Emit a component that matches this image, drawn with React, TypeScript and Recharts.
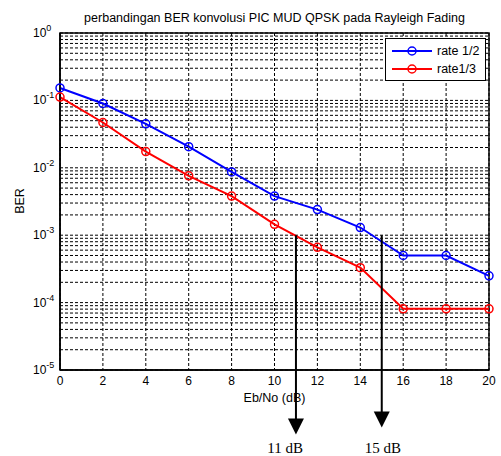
import React from "react";
import {
    CartesianGrid,
    Legend,
    Line,
    LineChart,
    ReferenceArea,
    ReferenceDot,
    ReferenceLine,
    XAxis,
    YAxis,
} from "recharts";

const ebNo = [0, 2, 4, 6, 8, 10, 12, 14, 16, 18, 20];
const rateHalf = [0.153, 0.09, 0.045, 0.0206, 0.0087, 0.0038, 0.0024, 0.0013, 0.0005, 0.0005, 0.00025];
const rateThird = [0.112, 0.047, 0.0174, 0.0076, 0.0038, 0.00145, 0.00066, 0.00033, 0.000081, 0.000081, 0.000081];

const decadeTicks = [1e-5, 1e-4, 1e-3, 1e-2, 1e-1, 1];
const gridMultipliers = [1, 2, 3, 4, 5, 6, 7, 8, 9];

// annotation arrows below the plot
const arrowX = [11, 15];
const arrowFrom = [1e-3, 1e-3];
const arrowTip = [1.1e-6, 1.4e-6];
const arrowLabels = ["11 dB", "15 dB"];
const arrowLabelX = [10.5, 15.05];
const arrowLabelY = 7e-7;

const data = ebNo.map((x, i) => ({ ebNo: x, half: rateHalf[i], third: rateThird[i] }));

const minorGrid = decadeTicks
    .slice(0, -1)
    .flatMap((d) => gridMultipliers.map((m) => m * d))
    .concat([1]);

const FONT = "'Liberation Sans', Arial, sans-serif";

function PowerTick(props: any) {
    const { x, y, payload } = props;
    const exp = Math.round(Math.log10(payload.value));
    return (
        <text x={x - 19} y={y + 4} fontSize={12} fontFamily={FONT} fill="#000">
            <tspan>10</tspan>
            <tspan dy={-6} fontSize={9}>
                {exp}
            </tspan>
        </text>
    );
}

function ArrowHead(props: any) {
    const { cx, cy } = props;
    return <path d={`M${cx - 8},${cy - 16} L${cx + 8},${cy - 16} L${cx},${cy} Z`} fill="#000" />;
}

function LegendBox(props: any) {
    const items = props.payload || [];
    return (
        <div
            style={{
                width: 101,
                height: 43,
                boxSizing: "border-box",
                border: "1px solid #000",
                background: "#fff",
            }}
        >
            <svg width={99} height={41}>
                {items.map((item: any, i: number) => {
                    const y = 12 + i * 18;
                    return (
                        <g key={item.value}>
                            <line x1={6} x2={46} y1={y} y2={y} stroke={item.color} strokeWidth={2} />
                            <circle cx={26} cy={y} r={4} fill="none" stroke={item.color} strokeWidth={1.5} />
                            <text x={51} y={y + 4} fontSize={12.5} fontFamily={FONT} fill="#000">
                                {item.value}
                            </text>
                        </g>
                    );
                })}
            </svg>
        </div>
    );
}

export default function App() {
    return (
        <div style={{ position: "absolute", left: 0, top: 0, width: 501, height: 456, background: "#fff" }}>
            <div
                style={{
                    position: "absolute",
                    left: 60,
                    width: 429,
                    top: 11,
                    textAlign: "center",
                    fontFamily: FONT,
                    fontSize: 12.5,
                    lineHeight: "14px",
                }}
            >
                perbandingan BER konvolusi PIC MUD QPSK pada Rayleigh Fading
            </div>
            <div
                style={{
                    position: "absolute",
                    left: 60,
                    width: 429,
                    top: 391,
                    textAlign: "center",
                    fontFamily: FONT,
                    fontSize: 12.5,
                    lineHeight: "14px",
                }}
            >
                Eb/No (dB)
            </div>
            <div
                style={{
                    position: "absolute",
                    left: -30,
                    width: 100,
                    top: 194,
                    textAlign: "center",
                    fontFamily: FONT,
                    fontSize: 12.5,
                    lineHeight: "14px",
                    transform: "rotate(-90deg)",
                }}
            >
                BER
            </div>
            <LineChart
                width={501}
                height={456}
                data={data}
                margin={{ top: 33, right: 12, left: 0, bottom: 0 }}
            >
                <CartesianGrid horizontal={false} stroke="#000" strokeDasharray="3 2" />
                {minorGrid.map((v) => (
                    <ReferenceLine key={v} y={v} stroke="#000" strokeDasharray="3 2" />
                ))}
                <XAxis
                    dataKey="ebNo"
                    type="number"
                    domain={[0, 20]}
                    ticks={ebNo}
                    height={86}
                    tickLine={false}
                    tickSize={0}
                    tickMargin={6}
                    axisLine={{ stroke: "#000", strokeWidth: 1.5 }}
                    tick={{ fill: "#000", fontSize: 12, fontFamily: FONT }}
                />
                <YAxis
                    scale="log"
                    domain={[1e-5, 1]}
                    ticks={decadeTicks}
                    allowDataOverflow
                    width={60}
                    tickLine={false}
                    axisLine={{ stroke: "#000", strokeWidth: 1.5 }}
                    tick={<PowerTick />}
                />
                <ReferenceArea x1={0} x2={20} y1={1e-5} y2={1} fill="none" stroke="#000" strokeWidth={1.5} />
                <Line
                    dataKey="half"
                    name="rate 1/2"
                    stroke="#0000ff"
                    strokeWidth={2}
                    dot={{ r: 4, fill: "none", stroke: "#0000ff", strokeWidth: 1.5 }}
                    isAnimationActive={false}
                />
                <Line
                    dataKey="third"
                    name="rate1/3"
                    stroke="#ff0000"
                    strokeWidth={2}
                    dot={{ r: 4, fill: "none", stroke: "#ff0000", strokeWidth: 1.5 }}
                    isAnimationActive={false}
                />
                {arrowX.map((x, i) => (
                    <ReferenceLine
                        key={"a" + x}
                        segment={[
                            { x, y: arrowFrom[i] },
                            { x, y: arrowTip[i] * 1.5 },
                        ]}
                        stroke="#000"
                        strokeWidth={2}
                        ifOverflow="visible"
                    />
                ))}
                {arrowX.map((x, i) => (
                    <ReferenceDot
                        key={"h" + x}
                        x={x}
                        y={arrowTip[i]}
                        ifOverflow="visible"
                        shape={<ArrowHead />}
                    />
                ))}
                {arrowX.map((x, i) => (
                    <ReferenceDot
                        key={"t" + x}
                        x={arrowLabelX[i]}
                        y={arrowLabelY}
                        ifOverflow="visible"
                        shape={(p: any) => (
                            <text
                                x={p.cx}
                                y={p.cy + 5}
                                textAnchor="middle"
                                fontSize={15}
                                fontFamily="'Liberation Serif', 'Times New Roman', serif"
                                fill="#000"
                            >
                                {arrowLabels[i]}
                            </text>
                        )}
                    />
                ))}
                <Legend
                    layout="vertical"
                    align="center"
                    verticalAlign="middle"
                    wrapperStyle={{ left: 385, top: 38, width: 101 }}
                    content={<LegendBox />}
                />
            </LineChart>
        </div>
    );
}
